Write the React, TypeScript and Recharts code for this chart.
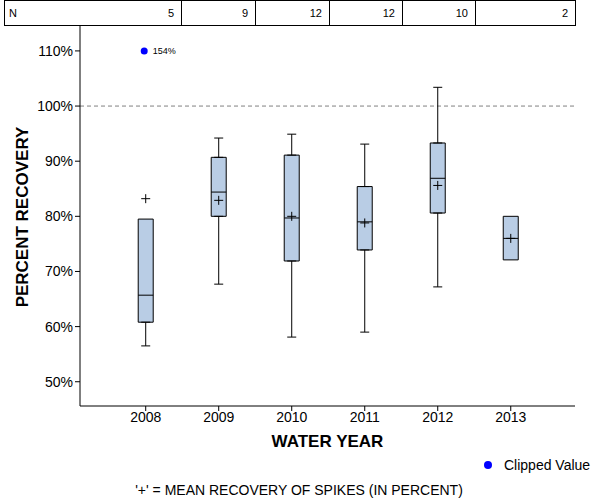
import {
  Bar,
  ComposedChart,
  ErrorBar,
  Label,
  ReferenceLine,
  Scatter,
  XAxis,
  YAxis,
} from "recharts";

const years = [2008, 2009, 2010, 2011, 2012, 2013];
const nCounts = [5, 9, 12, 12, 10, 2];
const minValues = [56.5, 67.7, 58.1, 59.0, 67.2, null];
const q1Values = [60.8, 80.0, 71.9, 73.9, 80.6, 72.1];
const medianValues = [65.7, 84.4, 79.7, 79.0, 86.9, 76.0];
const q3Values = [79.5, 90.7, 91.1, 85.4, 93.3, 80.0];
const maxValues = [null, 94.2, 94.9, 93.1, 103.4, null];
const meanValues = [83.2, 82.9, 80.0, 78.8, 85.6, 76.0];

// values above the axis top are drawn at the clip level with their real value
const clippedYears = [2008];
const clippedValues = [154];
const clipLevel = 110;

const yTicks = [50, 60, 70, 80, 90, 100, 110];

const FONT = "'Liberation Sans', Arial, sans-serif";
const BOX_FILL = "#b9cde5";

const boxData = years.map((year, i) => ({
  year,
  min: minValues[i],
  q1: q1Values[i],
  median: medianValues[i],
  q3: q3Values[i],
  max: maxValues[i],
  mean: meanValues[i],
}));

const lowerWhiskers = boxData
  .filter((d) => d.min != null)
  .map((d) => ({ year: d.year, y: d.q1, err: [d.q1 - (d.min as number), 0] }));

const upperWhiskers = boxData
  .filter((d) => d.max != null)
  .map((d) => ({ year: d.year, y: d.q3, err: [0, (d.max as number) - d.q3] }));

const medianPoints = boxData.map((d) => ({ year: d.year, y: d.median }));
const meanPoints = boxData.map((d) => ({ year: d.year, y: d.mean }));
const clippedPoints = clippedYears.map((year, i) => ({
  year,
  y: clipLevel,
  value: clippedValues[i],
}));

const NoDot = () => <g />;

function MedianLine(props: any) {
  const { cx, cy } = props;
  return (
    <line x1={cx - 7.5} x2={cx + 7.5} y1={cy} y2={cy} stroke="#000" strokeWidth={1} />
  );
}

function MeanPlus(props: any) {
  const { cx, cy } = props;
  return (
    <g stroke="#000" strokeWidth={1}>
      <line x1={cx - 4.5} x2={cx + 4.5} y1={cy} y2={cy} />
      <line x1={cx} x2={cx} y1={cy - 4.5} y2={cy + 4.5} />
    </g>
  );
}

function ClippedDot(props: any) {
  const { cx, cy, payload } = props;
  return (
    <g>
      <circle cx={cx - 1.5} cy={cy} r={3.5} fill="#0000ff" />
      <text
        x={cx + 7}
        y={cy}
        dy="0.35em"
        fontSize={9}
        fontFamily={FONT}
        fill="#000"
      >
        {`${payload.value}%`}
      </text>
    </g>
  );
}

function YTitle(props: any) {
  const { x, y, height } = props.viewBox;
  const cx = x + 22.5;
  const cy = y + height / 2 + 1.5;
  return (
    <text
      x={cx}
      y={cy}
      transform={`rotate(-90 ${cx} ${cy})`}
      textAnchor="middle"
      dominantBaseline="central"
      fontSize={17}
      fontWeight="bold"
      fontFamily={FONT}
      fill="#000"
    >
      PERCENT RECOVERY
    </text>
  );
}

function XTitle(props: any) {
  const { x, y, width } = props.viewBox;
  return (
    <text
      x={x + width / 2}
      y={y + 35}
      textAnchor="middle"
      dominantBaseline="central"
      fontSize={17}
      fontWeight="bold"
      fontFamily={FONT}
      fill="#000"
    >
      WATER YEAR
    </text>
  );
}

// first cell also carries the "N" row label
const cellWidths = [177, 74, 74, 73, 73, 99];

function CountRow() {
  return (
    <div
      style={{
        position: "absolute",
        left: 4,
        top: 0,
        width: 572,
        height: 26,
        boxSizing: "border-box",
        border: "1px solid #000",
        display: "flex",
        fontSize: 11,
        fontFamily: FONT,
      }}
    >
      {nCounts.map((n, i) => (
        <div
          key={i}
          style={{
            position: "relative",
            width: cellWidths[i],
            flexShrink: 0,
            boxSizing: "border-box",
            borderRight: i < cellWidths.length - 1 ? "1px solid #000" : "none",
            display: "flex",
            alignItems: "center",
            justifyContent: "flex-end",
            paddingRight: 7,
          }}
        >
          {i === 0 && (
            <span
              style={{
                position: "absolute",
                left: 4,
                top: 0,
                bottom: 0,
                display: "flex",
                alignItems: "center",
              }}
            >
              N
            </span>
          )}
          {n}
        </div>
      ))}
    </div>
  );
}

export default function App() {
  return (
    <div
      style={{
        position: "absolute",
        left: 0,
        top: 0,
        width: 600,
        height: 500,
        background: "#fff",
        fontFamily: FONT,
      }}
    >
      <ComposedChart
        width={600}
        height={500}
        data={boxData}
        margin={{ top: 25, right: 25, left: 0, bottom: 0 }}
      >
        <XAxis
          dataKey="year"
          type="number"
          domain={[2007.1, 2013.88]}
          ticks={years}
          allowDataOverflow
          height={94}
          tickSize={5}
          tickMargin={1}
          tick={{ fontSize: 14, fill: "#000" }}
          axisLine={{ stroke: "#000" }}
          tickLine={{ stroke: "#000" }}
        >
          <Label content={XTitle} />
        </XAxis>
        <YAxis
          type="number"
          domain={[45.6, 114.7]}
          ticks={yTicks}
          allowDataOverflow
          width={80}
          tickSize={5}
          tickMargin={2}
          tickFormatter={(v) => `${v}%`}
          tick={{ fontSize: 14, fill: "#000" }}
          axisLine={{ stroke: "#000" }}
          tickLine={{ stroke: "#000" }}
        >
          <Label content={YTitle} />
        </YAxis>
        <YAxis
          yAxisId="right"
          orientation="right"
          domain={[45.6, 114.7]}
          width={0}
          tick={false}
          tickLine={false}
          axisLine={{ stroke: "#000" }}
        />

        <ReferenceLine y={100} stroke="#808080" strokeDasharray="4 3" />

        <Scatter data={lowerWhiskers} dataKey="y" shape={NoDot} isAnimationActive={false}>
          <ErrorBar dataKey="err" direction="y" width={4.5} stroke="#000" strokeWidth={1} />
        </Scatter>
        <Scatter data={upperWhiskers} dataKey="y" shape={NoDot} isAnimationActive={false}>
          <ErrorBar dataKey="err" direction="y" width={4.5} stroke="#000" strokeWidth={1} />
        </Scatter>

        <Bar
          dataKey={(d: any) => [d.q1, d.q3]}
          barSize={15}
          fill={BOX_FILL}
          stroke="#000"
          strokeWidth={1}
          isAnimationActive={false}
        />

        <Scatter data={medianPoints} dataKey="y" shape={MedianLine} isAnimationActive={false} />
        <Scatter data={meanPoints} dataKey="y" shape={MeanPlus} isAnimationActive={false} />
        <Scatter data={clippedPoints} dataKey="y" shape={ClippedDot} isAnimationActive={false} />
      </ComposedChart>

      <CountRow />

      <div
        style={{
          position: "absolute",
          left: 484,
          top: 457,
          display: "flex",
          alignItems: "center",
          fontSize: 14,
          whiteSpace: "nowrap",
        }}
      >
        <span
          style={{
            width: 8,
            height: 8,
            borderRadius: "50%",
            background: "#0000ff",
            marginRight: 12,
          }}
        />
        Clipped Value
      </div>

      <div
        style={{
          position: "absolute",
          left: 0,
          top: 482,
          width: 598,
          textAlign: "center",
          fontSize: 14,
          whiteSpace: "nowrap",
        }}
      >
        '+' = MEAN RECOVERY OF SPIKES (IN PERCENT)
      </div>
    </div>
  );
}
